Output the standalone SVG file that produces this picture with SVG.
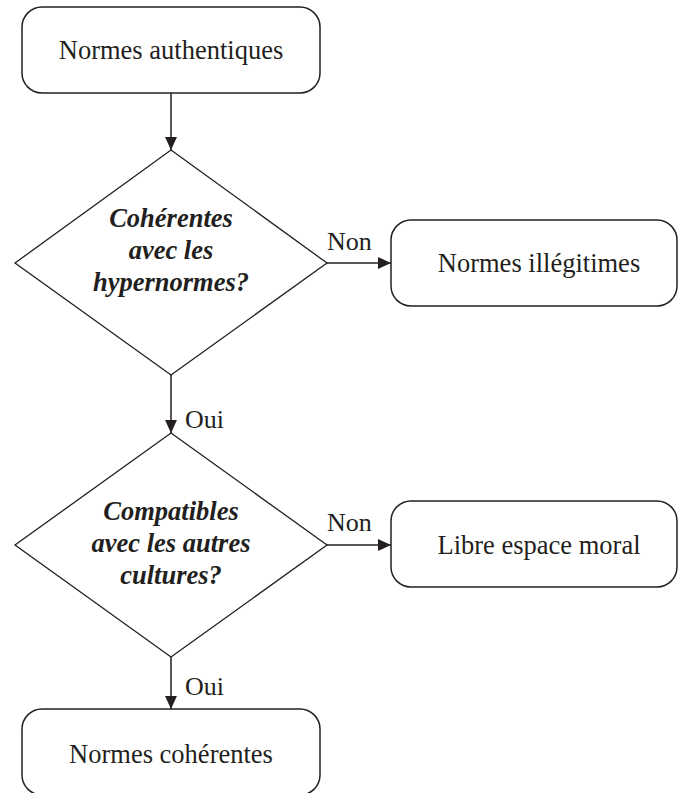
<svg xmlns="http://www.w3.org/2000/svg" width="678" height="793" viewBox="0 0 678 793">
<defs>
<style>
.box{fill:#fff;stroke:#231f20;stroke-width:1.5}
.dia{fill:#fff;stroke:#231f20;stroke-width:1.3}
.t{font-family:"Liberation Serif","Times New Roman",serif;font-size:26.5px;fill:#231f20;text-anchor:middle}
.q{font-family:"Liberation Serif","Times New Roman",serif;font-size:26.5px;font-weight:bold;font-style:italic;fill:#231f20;text-anchor:middle}
.l{font-family:"Liberation Serif","Times New Roman",serif;font-size:26px;fill:#231f20}
.c{fill:none;stroke:#231f20;stroke-width:1.5}
</style>
<marker id="ah2" viewBox="0 0 12 12" refX="12" refY="6" markerWidth="13" markerHeight="13" markerUnits="userSpaceOnUse" orient="auto">
<path d="M0,0.5 L12,6 L0,11.5 z" fill="#231f20"/>
</marker>
</defs>
<g id="connectors">
<line class="c" x1="171" y1="93" x2="171" y2="150" marker-end="url(#ah2)"/>
<line class="c" x1="171" y1="375" x2="171" y2="433" marker-end="url(#ah2)"/>
<line class="c" x1="171" y1="657" x2="171" y2="709" marker-end="url(#ah2)"/>
<line class="c" x1="327" y1="263" x2="391" y2="263" marker-end="url(#ah2)"/>
<line class="c" x1="327" y1="545" x2="391" y2="545" marker-end="url(#ah2)"/>
<text class="l" x="185" y="428">Oui</text>
<text class="l" x="185" y="695">Oui</text>
<text class="l" x="327" y="250">Non</text>
<text class="l" x="327" y="531">Non</text>
</g>
<g id="n1">
<rect class="box" x="22" y="7" width="298" height="86" rx="20"/>
<text class="t" x="171" y="59">Normes authentiques</text>
</g>
<g id="d1">
<polygon class="dia" points="171,150 327,263 171,375 15,263"/>
<text class="q" x="171" y="227">Cohérentes</text>
<text class="q" x="171" y="259">avec les</text>
<text class="q" x="171" y="291">hypernormes?</text>
</g>
<g id="n2">
<rect class="box" x="391" y="220" width="286" height="86" rx="20"/>
<text class="t" x="539" y="272">Normes illégitimes</text>
</g>
<g id="d2">
<polygon class="dia" points="171,433 327,545 171,657 15,545"/>
<text class="q" x="171" y="520">Compatibles</text>
<text class="q" x="171" y="552">avec les autres</text>
<text class="q" x="171" y="584">cultures?</text>
</g>
<g id="n3">
<rect class="box" x="391" y="501" width="286" height="86" rx="20"/>
<text class="t" x="539" y="554">Libre espace moral</text>
</g>
<g id="n4">
<rect class="box" x="22" y="709" width="298" height="86" rx="20"/>
<text class="t" x="171" y="763">Normes cohérentes</text>
</g>
</svg>
